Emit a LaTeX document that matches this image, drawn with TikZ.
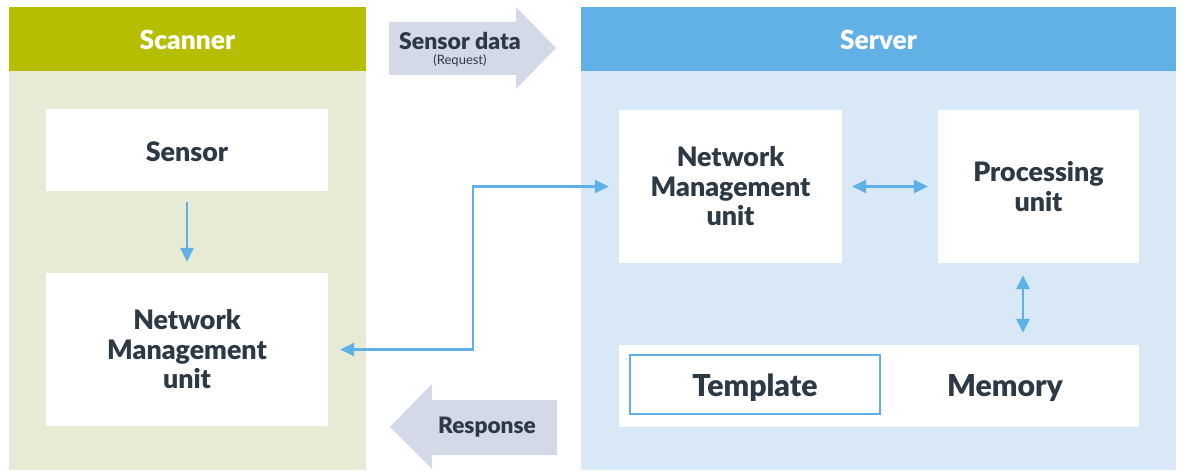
\documentclass[tikz,border=0pt]{standalone}
\usepackage{fontspec}
\setmainfont{Lato}[BoldFont={Lato Black}]
\usetikzlibrary{arrows.meta}
\definecolor{olivehead}{HTML}{B5BF00}
\definecolor{olivebody}{HTML}{E7EBD6}
\definecolor{bluehead}{HTML}{62B1E6}
\definecolor{bluebody}{HTML}{D9E8F6}
\definecolor{linkblue}{HTML}{5EB0E5}
\definecolor{flowgray}{HTML}{D3D9E6}
\definecolor{ink}{HTML}{2D3A45}
\tikzset{
  unit/.style={fill=white, draw=none, inner sep=0pt, align=center,
    text=ink, font=\fontsize{26.8}{29.5}\selectfont\bfseries},
  headtext/.style={text=white, font=\fontsize{26.4}{28}\selectfont\bfseries},
  link/.style={draw=linkblue, line width=2.5pt,
    {Triangle[length=14pt,width=13pt]}-{Triangle[length=14pt,width=13pt]}},
  onelink/.style={draw=linkblue, line width=2.5pt, -{Triangle[length=14pt,width=13pt]}},
  flowtext/.style={text=ink, font=\fontsize{23}{26}\selectfont\bfseries},
}
\begin{document}
\begin{tikzpicture}[x=1pt,y=-1pt]
\useasboundingbox (0,0) rectangle (1183,473);
\fill[white] (0,0) rectangle (1183,473);

% Scanner panel
\fill[olivebody] (9,71) rectangle (366,470);
\fill[olivehead] (9,7) rectangle (366,71);
\node[headtext] (scanhead) at (187.5,40) {Scanner};

% Server panel
\fill[bluebody] (581,71) rectangle (1176,470);
\fill[bluehead] (581,7) rectangle (1176,71);
\node[headtext] (servhead) at (878.5,40) {Server};

% Request / response block arrows
\fill[flowgray] (389,22) -- (516,22) -- (516,7) -- (556,48) -- (516,89) -- (516,75) -- (389,75) -- cycle;
\node[flowtext] (reqtext) at (460,41) {Sensor data};
\node[text=ink, font=\fontsize{13}{15}\selectfont] (reqsub) at (460,61) {(Request)};
\fill[flowgray] (557,400) -- (432,400) -- (432,384) -- (390,427) -- (432,469) -- (432,455) -- (557,455) -- cycle;
\node[flowtext, font=\fontsize{22.6}{25}\selectfont\bfseries] (resptext) at (487,427) {Response};

% Scanner units
\node[unit, minimum width=282pt, minimum height=82pt] (sensor) at (187,150) {};
\node[text=ink, font=\fontsize{26.8}{29.5}\selectfont\bfseries] (sensortext) at (187,152) {Sensor};
\node[unit, minimum width=282pt, minimum height=153pt] (nmuS) at (187,349.5) {Network\\Management\\unit};

% Server units
\node[unit, minimum width=223pt, minimum height=153pt] (nmuR) at (730.5,186.5) {Network\\Management\\unit};
\node[unit, minimum width=201pt, minimum height=153pt] (proc) at (1038.5,186.5) {Processing\\unit};
\node[unit, minimum width=520pt, minimum height=82pt] (mem) at (879,386) {};
\node[text=ink, font=\fontsize{30.2}{33}\selectfont\bfseries] (memtext) at (1005,388) {Memory};
\node[fill=white, draw=linkblue, line width=2pt, minimum width=250pt, minimum height=59pt] (tmpl) at (755,384.5) {};
\node[text=ink, font=\fontsize{30.2}{33}\selectfont\bfseries] (tmpltext) at (755,387.5) {Template};

% Connectors
\draw[onelink, shorten <=11pt, shorten >=11pt] (sensor) -- (nmuS);
\coordinate (bend) at (473,0);
\draw[link, shorten <=12pt, shorten >=10pt] (nmuS.east) -- (bend |- nmuS.east) -- (bend |- nmuR.west) -- (nmuR.west);
\draw[link, shorten <=10pt, shorten >=10pt] (nmuR) -- (proc);
\draw[link, shorten <=12pt, shorten >=12pt] (proc.south -| 1023,0) -- (mem.north -| 1023,0);
\end{tikzpicture}
\end{document}
